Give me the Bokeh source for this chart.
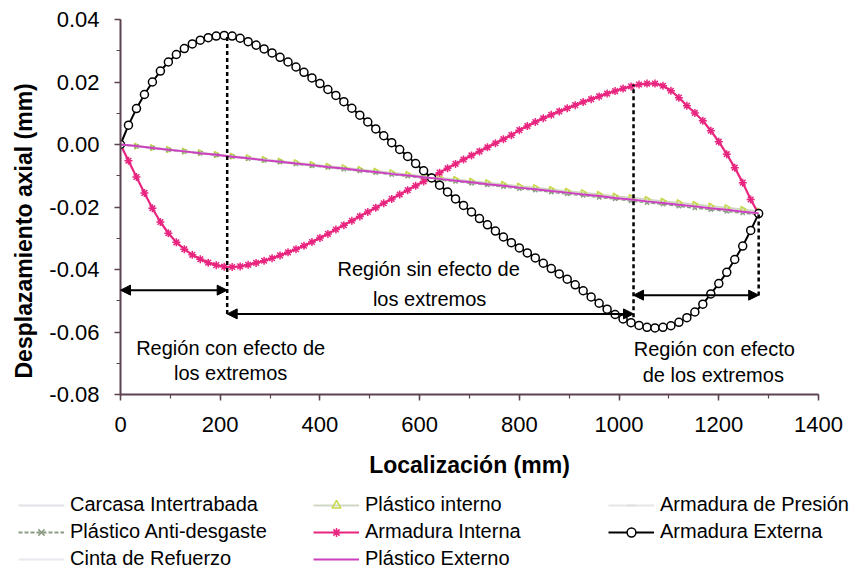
import math

from bokeh.plotting import figure
from bokeh.layouts import column
from bokeh.models import (Range1d, SingleIntervalTicker, PrintfTickFormatter, Label, Title,
                          Arrow, NormalHead, Legend, LegendItem)
from bokeh.embed import file_html
from bokeh.resources import INLINE

FONT = "Liberation Sans"

# Measuring stations along the sample (mm)
localizacion = list(range(0, 1281, 16))

# Axial displacement (mm) of the armour layers
armadura_externa = [
    0.0000, 0.0062, 0.0115, 0.0160, 0.0200, 0.0235, 0.0264, 0.0288, 0.0307, 0.0322,
    0.0334, 0.0342, 0.0347, 0.0349, 0.0347, 0.0340, 0.0329, 0.0318, 0.0306, 0.0293,
    0.0279, 0.0264, 0.0248, 0.0231, 0.0213, 0.0195, 0.0176, 0.0157, 0.0137, 0.0116,
    0.0094, 0.0072, 0.0050, 0.0028, 0.0006, -0.0016, -0.0038, -0.0061, -0.0084, -0.0107,
    -0.0130, -0.0152, -0.0174, -0.0195, -0.0216, -0.0237, -0.0257, -0.0277, -0.0296, -0.0314,
    -0.0331, -0.0347, -0.0363, -0.0380, -0.0397, -0.0414, -0.0431, -0.0449, -0.0468, -0.0488,
    -0.0508, -0.0527, -0.0544, -0.0558, -0.0570, -0.0579, -0.0585, -0.0587, -0.0585, -0.0580,
    -0.0569, -0.0554, -0.0536, -0.0511, -0.0478, -0.0445, -0.0409, -0.0368, -0.0325, -0.0275,
    -0.0221,
]
armadura_interna = [
    0.0000, -0.0052, -0.0104, -0.0155, -0.0204, -0.0248, -0.0284, -0.0313, -0.0335, -0.0353,
    -0.0367, -0.0378, -0.0386, -0.0391, -0.0392, -0.0390, -0.0385, -0.0379, -0.0372, -0.0364,
    -0.0355, -0.0345, -0.0335, -0.0324, -0.0312, -0.0299, -0.0286, -0.0272, -0.0258, -0.0244,
    -0.0230, -0.0216, -0.0202, -0.0188, -0.0174, -0.0160, -0.0146, -0.0132, -0.0118, -0.0104,
    -0.0090, -0.0076, -0.0062, -0.0048, -0.0035, -0.0022, -0.0009, 0.0004, 0.0017, 0.0030,
    0.0046, 0.0059, 0.0072, 0.0084, 0.0095, 0.0106, 0.0116, 0.0126, 0.0136, 0.0145,
    0.0154, 0.0163, 0.0171, 0.0179, 0.0186, 0.0192, 0.0195, 0.0195, 0.0188, 0.0172,
    0.0150, 0.0124, 0.0101, 0.0076, 0.0044, 0.0009, -0.0031, -0.0074, -0.0122, -0.0176,
    -0.0222,
]

# Plastic layers, sampled every 32 mm
loc_capas = list(range(0, 1281, 32))
plastico_interno = [
    0.0000, -0.0005, -0.0010, -0.0016, -0.0021, -0.0026, -0.0032, -0.0037, -0.0042, -0.0048,
    -0.0053, -0.0058, -0.0064, -0.0069, -0.0074, -0.0080, -0.0085, -0.0090, -0.0096, -0.0101,
    -0.0106, -0.0112, -0.0117, -0.0122, -0.0128, -0.0133, -0.0138, -0.0144, -0.0149, -0.0154,
    -0.0160, -0.0165, -0.0170, -0.0176, -0.0181, -0.0186, -0.0192, -0.0197, -0.0202, -0.0208,
    -0.0213,
]
plastico_anti_desgaste = [
    0.0000, -0.0006, -0.0011, -0.0017, -0.0023, -0.0028, -0.0034, -0.0039, -0.0045, -0.0051,
    -0.0056, -0.0062, -0.0068, -0.0073, -0.0079, -0.0084, -0.0090, -0.0096, -0.0101, -0.0107,
    -0.0113, -0.0118, -0.0124, -0.0129, -0.0135, -0.0141, -0.0146, -0.0152, -0.0158, -0.0163,
    -0.0169, -0.0174, -0.0180, -0.0186, -0.0191, -0.0197, -0.0203, -0.0208, -0.0214, -0.0219,
    -0.0225,
]
plastico_externo = [
    0.0000, -0.0005, -0.0011, -0.0017, -0.0022, -0.0028, -0.0033, -0.0039, -0.0044, -0.0050,
    -0.0055, -0.0061, -0.0066, -0.0072, -0.0077, -0.0083, -0.0088, -0.0094, -0.0099, -0.0105,
    -0.0110, -0.0116, -0.0121, -0.0127, -0.0132, -0.0138, -0.0143, -0.0149, -0.0154, -0.0160,
    -0.0165, -0.0171, -0.0176, -0.0182, -0.0187, -0.0193, -0.0198, -0.0204, -0.0209, -0.0215,
    -0.0220,
]

# Remaining layers, sampled every 64 mm
loc_capas_claras = list(range(0, 1281, 64))
carcasa_intertrabada = [
    0.0000, -0.0011, -0.0022, -0.0033, -0.0044, -0.0055, -0.0066, -0.0077, -0.0088, -0.0099,
    -0.0110, -0.0121, -0.0132, -0.0143, -0.0154, -0.0165, -0.0176, -0.0187, -0.0198, -0.0209,
    -0.0221,
]
armadura_presion = [
    0.0000, -0.0011, -0.0022, -0.0033, -0.0044, -0.0056, -0.0067, -0.0078, -0.0089, -0.0100,
    -0.0111, -0.0122, -0.0133, -0.0144, -0.0155, -0.0166, -0.0177, -0.0189, -0.0200, -0.0211,
    -0.0222,
]
cinta_refuerzo = [
    0.0000, -0.0011, -0.0022, -0.0033, -0.0044, -0.0055, -0.0066, -0.0077, -0.0088, -0.0099,
    -0.0110, -0.0121, -0.0132, -0.0143, -0.0154, -0.0165, -0.0176, -0.0187, -0.0198, -0.0209,
    -0.0220,
]

# End-effect region limits (mm) and the guide/arrow levels (mm of displacement)
limites_region = [0, 214, 1029, 1280]
guia_superior = [0.0349, 0.0192, -0.0222]
guia_inferior = [-0.0542, -0.0553, -0.0483]
flecha_nivel = [-0.0466, -0.0542, -0.0482]

# Series, in legend order: (name, x, y, line colour, marker, marker colour, dash)
SERIES = [
    ("Carcasa Intertrabada", loc_capas_claras, carcasa_intertrabada, "#e2e2e8", None, None, "solid"),
    ("Plástico interno", loc_capas, plastico_interno, "#d0d8c4", "triangle", "#c8d84a", "solid"),
    ("Armadura de Presión", loc_capas_claras, armadura_presion, "#e6e6e6", "dash", "#dcdcdc", "solid"),
    ("Plástico Anti-desgaste", loc_capas, plastico_anti_desgaste, "#8c9c84", "x", "#8c9c84", "4 2"),
    ("Armadura Interna", localizacion, armadura_interna, "#e8267f", "asterisk", "#e8267f", "solid"),
    ("Armadura Externa", localizacion, armadura_externa, "black", "circle", "black", "solid"),
    ("Cinta de Refuerzo", loc_capas_claras, cinta_refuerzo, "#e8e8ee", None, None, "solid"),
    ("Plástico Externo", loc_capas, plastico_externo, "#cc3fbf", None, None, "solid"),
]
LINE_W = {"Armadura Interna": 2.2, "Armadura Externa": 2.0, "Plástico Externo": 2.0}
MARK_SIZE = {"triangle": 6, "dash": 6, "x": 6, "asterisk": 8, "circle": 8}


def draw_series(fig, nombre, xs, ys, color, marker, mcolor, dash, visible=True):
    rends = [fig.line(xs, ys, line_color=color, line_width=LINE_W.get(nombre, 1.8),
                      line_dash=dash, visible=visible)]
    if marker:
        kw = dict(marker=marker, size=MARK_SIZE[marker], line_color=mcolor, line_width=1.5,
                  fill_color="white" if marker == "circle" else None, visible=visible)
        if marker == "triangle":
            kw["angle"] = -math.pi / 2
        rends.append(fig.scatter(xs, ys, **kw))
    return rends


p = figure(width=863, height=490, output_backend="svg", toolbar_location=None,
           x_range=Range1d(0, 1400), y_range=Range1d(-0.08, 0.04),
           min_border_left=120, min_border_right=45, min_border_top=19,
           min_border_bottom=96)
p.frame_align = False
p.outline_line_color = None
p.xgrid.grid_line_color = None
p.ygrid.grid_line_color = None
p.background_fill_color = "white"
p.border_fill_color = "white"

AXIS_COLOR = "#5c4352"
p.xaxis.ticker = SingleIntervalTicker(interval=200, num_minor_ticks=2)
p.yaxis.ticker = SingleIntervalTicker(interval=0.02, num_minor_ticks=2)
p.yaxis.formatter = PrintfTickFormatter(format="%.2f")
for ax in (p.xaxis, p.yaxis):
    ax.axis_line_color = AXIS_COLOR
    ax.axis_line_width = 2
    ax.major_tick_line_color = AXIS_COLOR
    ax.minor_tick_line_color = AXIS_COLOR
    ax.major_tick_line_width = 1.5
    ax.minor_tick_line_width = 1.2
    ax.major_tick_in = 0
    ax.major_tick_out = 6
    ax.minor_tick_in = 0
    ax.minor_tick_out = 4
    ax.major_label_text_font = FONT
    ax.major_label_text_font_size = "22px"
    ax.major_label_text_color = "black"
p.yaxis.major_label_standoff = 15
p.xaxis.major_label_standoff = 16

p.xaxis.axis_label = "Localización (mm)"
p.xaxis.axis_label_text_font = FONT
p.xaxis.axis_label_text_font_size = "23px"
p.xaxis.axis_label_text_font_style = "bold"
p.xaxis.axis_label_text_color = "black"
p.xaxis.axis_label_standoff = 17

p.add_layout(Title(text="Desplazamiento axial (mm)", align="left", offset=16,
                   vertical_align="top", standoff=16,
                   text_font=FONT, text_font_size="23px", text_font_style="bold",
                   text_color="black"), "left")

for serie in SERIES:
    draw_series(p, *serie)

# Region guides: dashed verticals and double arrows
p.segment(x0=limites_region[1:], y0=guia_inferior, x1=limites_region[1:], y1=guia_superior,
          line_color="black", line_width=2.5, line_dash="4 3")
for x0, x1, yv in zip(limites_region[:-1], limites_region[1:], flecha_nivel):
    p.add_layout(Arrow(x_start=x0, y_start=yv, x_end=x1, y_end=yv,
                       line_color="black", line_width=2,
                       start=NormalHead(size=10, fill_color="black", line_color="black"),
                       end=NormalHead(size=10, fill_color="black", line_color="black")))

# Region annotations
notas = [
    ("Región sin efecto de", 618, -0.0397),
    ("los extremos", 620, -0.0493),
    ("Región con efecto de", 221, -0.0650),
    ("los extremos", 221, -0.0730),
    ("Región con efecto", 1191, -0.0653),
    ("de los extremos", 1189, -0.0739),
]
for texto, xn, yn in notas:
    p.add_layout(Label(x=xn, y=yn, text=texto, text_font=FONT, text_font_size="20px",
                       text_align="center", text_baseline="middle", text_color="black"))

# Legend strip under the chart; its renderers are hidden copies that only lend their style
q = figure(width=863, height=82, output_backend="svg", toolbar_location=None,
           x_range=Range1d(0, 1400), y_range=Range1d(-0.08, 0.04),
           x_axis_type=None, y_axis_type=None,
           min_border_left=0, min_border_right=0, min_border_top=0, min_border_bottom=0)
q.frame_align = False
q.outline_line_color = None
q.xgrid.grid_line_color = None
q.ygrid.grid_line_color = None

items = {serie[0]: draw_series(q, *serie, visible=False) for serie in SERIES}

columnas = [
    (["Carcasa Intertrabada", "Plástico Anti-desgaste", "Cinta de Refuerzo"], (18, 2)),
    (["Plástico interno", "Armadura Interna", "Plástico Externo"], (313, 2)),
    (["Armadura de Presión", "Armadura Externa"], (608, 29)),
]
for nombres, loc in columnas:
    leg = Legend(items=[LegendItem(label=n, renderers=items[n]) for n in nombres],
                 location=loc, orientation="vertical",
                 border_line_color=None, background_fill_alpha=0,
                 inactive_fill_alpha=0,
                 padding=0, margin=0, spacing=4,
                 glyph_width=46, glyph_height=22, label_height=22, label_standoff=6,
                 label_text_font=FONT, label_text_font_size="20px",
                 label_text_color="black")
    q.add_layout(leg)

open("out.html", "w").write(file_html(column(p, q, spacing=0), INLINE))
